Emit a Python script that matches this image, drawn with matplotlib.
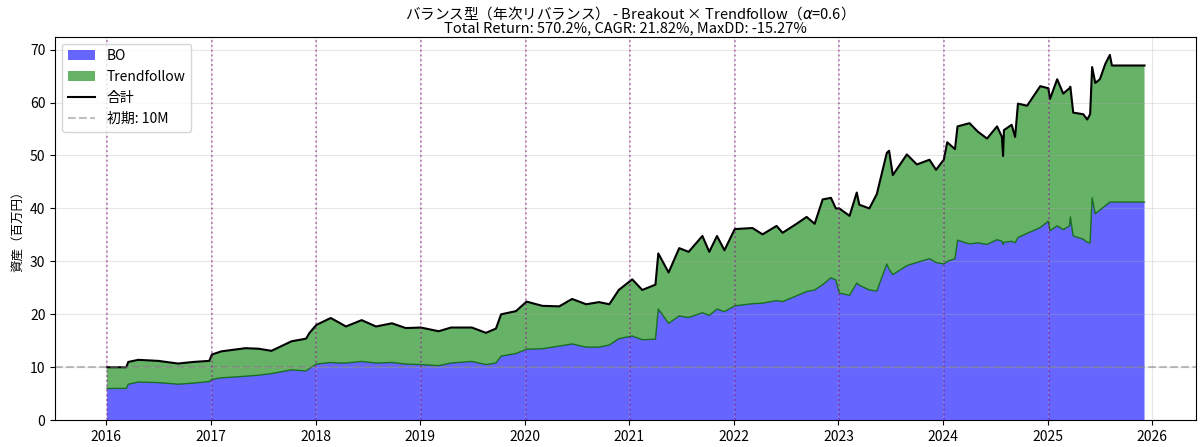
import numpy as np
import pandas as pd
import matplotlib
matplotlib.use("Agg")
import matplotlib.pyplot as plt
import matplotlib.dates as mdates

plt.rcParams["font.family"] = ["Noto Sans CJK JP", "DejaVu Sans"]
plt.rcParams["axes.unicode_minus"] = False

# portfolio values (million yen)
dates = [
    "2016-01-04", "2016-03-11", "2016-03-18", "2016-04-22", "2016-07-01", "2016-09-08",
    "2016-10-31", "2016-12-26", "2017-01-04", "2017-02-06", "2017-05-01", "2017-06-16",
    "2017-07-31", "2017-10-09", "2017-11-29", "2017-12-11", "2018-01-04", "2018-02-23",
    "2018-03-22", "2018-04-17", "2018-06-11", "2018-07-31", "2018-09-25", "2018-11-12",
    "2019-01-04", "2019-03-07", "2019-04-19", "2019-07-01", "2019-08-19", "2019-09-23",
    "2019-10-11", "2019-12-02", "2020-01-08", "2020-03-03", "2020-05-01", "2020-06-15",
    "2020-08-03", "2020-09-17", "2020-10-23", "2020-11-25", "2021-01-11", "2021-02-15",
    "2021-04-02", "2021-04-12", "2021-05-18", "2021-06-24", "2021-07-27", "2021-09-13",
    "2021-10-07", "2021-11-03", "2021-11-29", "2022-01-04", "2022-03-07", "2022-04-11",
    "2022-05-30", "2022-06-20", "2022-08-08", "2022-09-12", "2022-10-10", "2022-11-07",
    "2022-12-06", "2022-12-23", "2023-01-04", "2023-02-09", "2023-03-06", "2023-03-15",
    "2023-04-19", "2023-05-15", "2023-06-19", "2023-06-27", "2023-07-10", "2023-08-28",
    "2023-10-02", "2023-11-15", "2023-12-08", "2024-01-04", "2024-01-16", "2024-02-12",
    "2024-02-21", "2024-04-03", "2024-05-02", "2024-06-03", "2024-07-08", "2024-07-25",
    "2024-07-29", "2024-08-01", "2024-08-28", "2024-09-09", "2024-09-19", "2024-10-21",
    "2024-11-11", "2024-12-06", "2025-01-03", "2025-01-09", "2025-02-03", "2025-02-24",
    "2025-03-18", "2025-03-21", "2025-03-31", "2025-05-05", "2025-05-19", "2025-05-29",
    "2025-06-05", "2025-06-16", "2025-07-02", "2025-07-21", "2025-08-06", "2025-08-13",
    "2025-12-05",
]
total = [
    10.0, 10.0, 11.0, 11.4, 11.2, 10.7,
    11.0, 11.2, 12.4, 13.0, 13.6, 13.5,
    13.1, 14.9, 15.4, 16.5, 18.0, 19.3,
    18.5, 17.7, 18.9, 17.7, 18.3, 17.4,
    17.5, 16.8, 17.5, 17.5, 16.5, 17.3,
    20.0, 20.6, 22.4, 21.6, 21.5, 22.9,
    21.9, 22.3, 21.9, 24.6, 26.6, 24.6,
    25.6, 31.5, 27.9, 32.5, 31.8, 34.8,
    31.8, 34.8, 32.1, 36.1, 36.3, 35.1,
    36.7, 35.4, 37.1, 38.4, 37.1, 41.7,
    42.0, 40.0, 40.0, 38.6, 43.0, 40.7,
    40.0, 42.7, 50.5, 50.9, 46.3, 50.2,
    48.3, 49.2, 47.3, 49.2, 52.5, 51.2,
    55.5, 56.1, 54.5, 53.2, 55.5, 53.5,
    49.9, 54.8, 55.8, 53.5, 59.8, 59.4,
    61.1, 63.1, 62.7, 60.7, 64.4, 61.7,
    62.7, 63.0, 58.1, 57.8, 56.8, 57.8,
    66.7, 63.7, 64.4, 67.3, 69.0, 67.0,
    67.0,
]
bo = [
    6.0, 6.0, 6.8, 7.2, 7.1, 6.8,
    7.0, 7.3, 7.7, 8.0, 8.3, 8.5,
    8.8, 9.5, 9.3, 9.8, 10.6, 10.9,
    10.8, 10.8, 11.1, 10.8, 10.9, 10.6,
    10.5, 10.3, 10.8, 11.1, 10.5, 10.8,
    12.1, 12.6, 13.4, 13.5, 14.0, 14.4,
    13.8, 13.8, 14.2, 15.4, 15.9, 15.2,
    15.3, 21.0, 18.3, 19.7, 19.4, 20.3,
    19.8, 21.0, 20.5, 21.6, 22.0, 22.1,
    22.6, 22.4, 23.5, 24.3, 24.6, 25.6,
    26.9, 26.5, 24.0, 23.6, 25.9, 25.5,
    24.6, 24.4, 29.5, 28.5, 27.5, 29.2,
    29.8, 30.5, 29.8, 29.5, 30.0, 30.5,
    34.0, 33.3, 33.5, 33.2, 34.1, 33.8,
    33.2, 33.6, 33.8, 33.5, 34.5, 35.3,
    35.8, 36.4, 37.6, 35.8, 36.7, 36.0,
    36.7, 38.4, 34.8, 34.2, 33.6, 33.5,
    42.0, 39.0, 39.7, 40.5, 41.2, 41.2,
    41.2,
]
rebalance_dates = [
    "2016-01-04", "2017-01-04", "2018-01-04", "2019-01-04", "2020-01-06",
    "2021-01-04", "2022-01-04", "2023-01-04", "2024-01-04", "2025-01-06",
]
initial_capital = 10.0

dates = pd.to_datetime(dates)
total = np.array(total)
bo = np.array(bo)
tf = total - bo

fig, ax = plt.subplots(figsize=(12, 4.47), dpi=100)

ax.stackplot(dates, bo, tf, labels=["BO", "Trendfollow"],
             colors=["blue", "green"], alpha=0.6)
# edge between the two layers
ax.plot(dates, bo, color="darkgreen", linewidth=1.0, alpha=0.8)
ax.plot(dates, total, color="black", linewidth=1.5, label="合計")
ax.axhline(initial_capital, color="gray", linestyle="--", alpha=0.5, label="初期: 10M")
for d in pd.to_datetime(rebalance_dates):
    ax.axvline(d, color="purple", linestyle=":", alpha=0.5, linewidth=1.3)

ax.set_title("バランス型（年次リバランス） - Breakout × Trendfollow（$\\alpha$=0.6）\n"
             "Total Return: 570.2%, CAGR: 21.82%, MaxDD: -15.27%",
             fontsize=10.5, linespacing=0.95, pad=3)
ax.set_ylabel("資産（百万円）", fontsize=9)
ax.xaxis.set_major_locator(mdates.YearLocator())
ax.xaxis.set_major_formatter(mdates.DateFormatter("%Y"))
ax.legend(loc="upper left")
ax.grid(True, alpha=0.3)

fig.subplots_adjust(left=0.046, right=0.997, top=0.918, bottom=0.06)
plt.savefig("out.png", dpi=100)
